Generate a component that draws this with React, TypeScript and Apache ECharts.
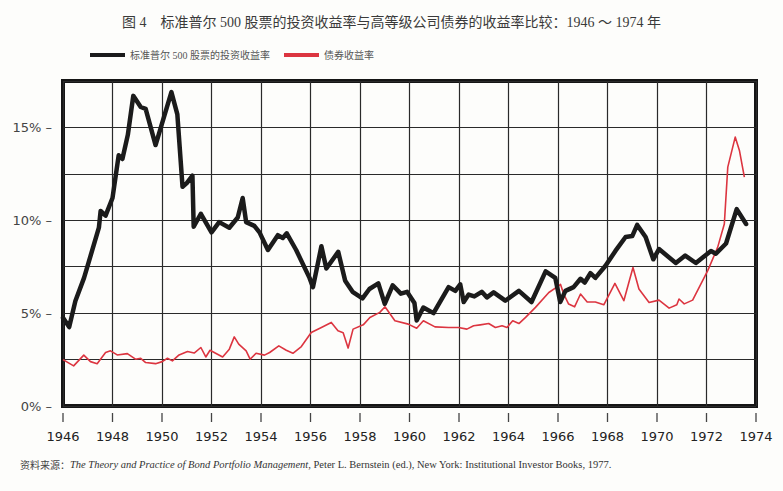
import React, { useEffect, useRef } from "react";
import * as echarts from "echarts";

const titleText = "图 4　标准普尔 500 股票的投资收益率与高等级公司债券的收益率比较：1946 ～ 1974 年";
const stockName = "标准普尔 500 股票的投资收益率";
const bondName = "债券收益率";

const stockYears = [
  1946.0, 1946.25, 1946.5, 1946.85, 1947.45, 1947.52, 1947.72, 1948.0, 1948.25, 1948.4,
  1948.62, 1948.84, 1949.14, 1949.34, 1949.74, 1950.38, 1950.62, 1950.83, 1951.0, 1951.23,
  1951.28, 1951.57, 1952.0, 1952.31, 1952.72, 1953.06, 1953.26, 1953.4, 1953.73, 1953.94,
  1954.28, 1954.68, 1954.88, 1955.04, 1955.42, 1955.96, 1956.1, 1956.44, 1956.64, 1957.12,
  1957.4, 1957.7, 1958.1, 1958.38, 1958.74, 1959.0, 1959.32, 1959.65, 1959.9, 1960.2,
  1960.29, 1960.56, 1960.97, 1961.58, 1961.85, 1962.05, 1962.19, 1962.39, 1962.62, 1962.92,
  1963.13, 1963.4, 1963.87, 1964.42, 1964.93, 1965.5, 1965.89, 1966.09, 1966.3, 1966.63,
  1966.91, 1967.08, 1967.31, 1967.51, 1967.92, 1968.32, 1968.73, 1969.0, 1969.2, 1969.54,
  1969.85, 1970.08, 1970.76, 1971.14, 1971.57, 1972.18, 1972.38, 1972.79, 1973.22, 1973.6,
];
const stockValues = [
  4.75, 4.25, 5.65, 6.9, 9.6, 10.5, 10.25, 11.2, 13.5, 13.3,
  14.6, 16.7, 16.1, 16.0, 14.05, 16.9, 15.7, 11.8, 12.0, 12.4,
  9.65, 10.35, 9.35, 9.9, 9.6, 10.15, 11.2, 9.9, 9.7, 9.35,
  8.4, 9.2, 9.05, 9.3, 8.4, 6.9, 6.4, 8.6, 7.4, 8.3,
  6.75, 6.15, 5.8, 6.3, 6.6, 5.5, 6.5, 6.05, 6.15, 5.55,
  4.6, 5.3, 5.0, 6.4, 6.2, 6.55, 5.6, 6.0, 5.9, 6.15,
  5.85, 6.12, 5.67, 6.2, 5.6, 7.25, 6.9, 5.6, 6.2, 6.4,
  6.85, 6.65, 7.15, 6.9, 7.55, 8.35, 9.1, 9.15, 9.75, 9.1,
  7.9, 8.45, 7.7, 8.1, 7.7, 8.35, 8.2, 8.75, 10.6, 9.8,
];

const bondYears = [
  1946.0, 1946.43, 1946.84, 1947.11, 1947.38, 1947.72, 1947.92, 1948.19, 1948.6, 1948.93,
  1949.14, 1949.34, 1949.74, 1950.01, 1950.22, 1950.42, 1950.69, 1951.03, 1951.3, 1951.57,
  1951.77, 1951.94, 1952.45, 1952.72, 1952.92, 1953.1, 1953.4, 1953.56, 1953.8, 1954.14,
  1954.35, 1954.72, 1955.02, 1955.29, 1955.63, 1956.03, 1956.44, 1956.84, 1957.11, 1957.32,
  1957.52, 1957.72, 1958.13, 1958.4, 1958.8, 1959.01, 1959.41, 1959.95, 1960.29, 1960.56,
  1961.03, 1961.58, 1961.98, 1962.32, 1962.59, 1962.86, 1963.2, 1963.47, 1963.74, 1963.94,
  1964.17, 1964.42, 1964.69, 1965.09, 1965.63, 1966.04, 1966.1, 1966.23, 1966.43, 1966.67,
  1966.91, 1967.18, 1967.51, 1967.85, 1968.3, 1968.66, 1968.89, 1969.03, 1969.27, 1969.68,
  1970.08, 1970.49, 1970.8, 1970.89, 1971.1, 1971.44, 1972.05, 1972.45, 1972.72, 1972.86,
  1973.16, 1973.33, 1973.53,
];
const bondValues = [
  2.5, 2.16, 2.74, 2.39, 2.28, 2.88, 2.97, 2.75, 2.82, 2.52,
  2.57, 2.34, 2.28, 2.39, 2.57, 2.43, 2.75, 2.93, 2.85, 3.15,
  2.64, 3.0, 2.64, 3.06, 3.72, 3.33, 2.97, 2.52, 2.84, 2.74,
  2.88, 3.24, 3.0, 2.84, 3.2, 3.96, 4.23, 4.5, 4.05, 3.95,
  3.12, 4.14, 4.37, 4.77, 5.04, 5.34, 4.59, 4.41, 4.19, 4.59,
  4.26, 4.23, 4.23, 4.14, 4.32, 4.37, 4.44, 4.23, 4.32, 4.23,
  4.59, 4.44, 4.77, 5.31, 6.11, 6.48, 6.55, 6.03, 5.49, 5.34,
  6.03, 5.6, 5.6, 5.45, 6.6, 5.67, 6.78, 7.46, 6.3, 5.57,
  5.7, 5.27, 5.45, 5.76, 5.5, 5.7, 7.29, 8.54, 9.8, 12.86,
  14.48, 13.76, 12.32,
];

const yLabelValues = [0, 5, 10, 15];
const sourceLabel = "资料来源：";
const sourceTitle = "The Theory and Practice of Bond Portfolio Management";
const sourceRest = ", Peter L. Bernstein (ed.), New York: Institutional Investor Books, 1977.";

const zip = (xs: number[], ys: number[]) => xs.map((x, i) => [x, ys[i]]);

export default function App() {
  const ref = useRef<HTMLDivElement>(null);
  useEffect(() => {
    if (!ref.current) return;
    const chart = echarts.init(ref.current, null, { renderer: "svg" });
    const serifCjk = "'Liberation Serif', 'Noto Sans CJK SC', serif";
    chart.setOption({
      animation: false,
      backgroundColor: "#fdfdfb",
      title: {
        text: titleText,
        left: "center",
        top: 10,
        textStyle: { fontSize: 14, fontWeight: "normal", color: "#3a3a3a", fontFamily: serifCjk },
      },
      legend: {
        left: 85,
        top: 45,
        itemWidth: 35,
        itemHeight: 4,
        itemGap: 14,
        textStyle: { fontSize: 10, color: "#555", fontFamily: serifCjk },
        data: [
          { name: stockName, icon: "rect" },
          { name: bondName, icon: "rect" },
        ],
      },
      grid: {
        left: 63,
        right: 27,
        top: 81,
        bottom: 85,
        show: true,
        borderColor: "#151515",
        borderWidth: 4,
        backgroundColor: "transparent",
      },
      xAxis: {
        type: "value",
        min: 1946,
        max: 1974,
        interval: 2,
        axisLine: { show: false },
        axisTick: { show: false },
        splitLine: { show: true, lineStyle: { color: "#2a2a2a", width: 1.2 } },
        axisLabel: {
          margin: 6,
          formatter: (v: number) => `{t| }\n{y|${v}}`,
          rich: {
            t: { width: 1.3, height: 9, lineHeight: 11, backgroundColor: "#444", fontSize: 2 },
            y: { fontSize: 13, lineHeight: 26, color: "#222", fontFamily: "DejaVu Sans" },
          },
        },
      },
      yAxis: {
        type: "value",
        min: 0,
        max: 17.5,
        interval: 2.5,
        axisLine: { show: false },
        axisTick: { show: false },
        splitLine: { show: true, lineStyle: { color: "#2a2a2a", width: 1.2 } },
        axisLabel: {
          margin: 11,
          fontSize: 13,
          color: "#444",
          fontFamily: "DejaVu Sans",
          formatter: (v: number) => (yLabelValues.includes(v) ? `${v}% –` : ""),
        },
      },
      series: [
        {
          name: stockName,
          type: "line",
          data: zip(stockYears, stockValues),
          symbol: "none",
          color: "#1b1b1b",
          lineStyle: { width: 4.5, color: "#1b1b1b", join: "round", cap: "round" },
          z: 3,
        },
        {
          name: bondName,
          type: "line",
          data: zip(bondYears, bondValues),
          symbol: "none",
          color: "#dc3540",
          lineStyle: { width: 1.6, color: "#dc3540", join: "round" },
          z: 2,
        },
      ],
      graphic: [
        {
          type: "text",
          left: 20,
          top: 459,
          style: {
            text: `{a|${sourceLabel}}{b|${sourceTitle}}{c|${sourceRest}}`,
            rich: {
              a: { fontSize: 10, fill: "#444", fontFamily: "'Noto Sans CJK SC'" },
              b: { fontSize: 10.5, fill: "#333", fontStyle: "italic", fontFamily: "'Liberation Serif'" },
              c: { fontSize: 10.5, fill: "#333", fontFamily: "'Liberation Serif'" },
            },
          },
        },
      ],
    });
    return () => chart.dispose();
  }, []);
  return (
    <div
      ref={ref}
      style={{ position: "absolute", left: 0, top: 0, width: 783, height: 491 }}
    />
  );
}
